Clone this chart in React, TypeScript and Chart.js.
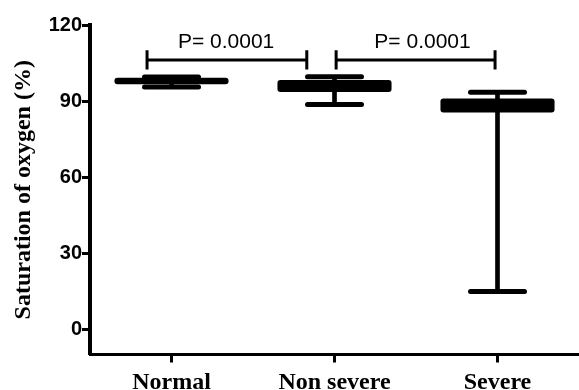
import React, { useEffect, useRef } from 'react';
import { Chart, registerables } from 'chart.js';

Chart.register(...registerables);

// ---- data ----
const categories = ['Normal', 'Non severe', 'Severe'];
const whiskerMin = [95.5, 88.6, 14.9];
const quartile1 = [96.6, 93.6, 85.5];
const quartile3 = [99.2, 98.3, 91.0];
const whiskerMax = [99.5, 99.6, 93.5];
const yTicks = [0, 30, 60, 90, 120];
const yTitle = 'Saturation of oxygen (%)';
const pLabels = ['P= 0.0001', 'P= 0.0001'];

// bracket annotations (category-index positions)
const bracketFrom = [-0.15, 1.01];
const bracketTo = [0.83, 1.985];
const bracketTextAt = [0.335, 1.54];
const bracketLevel = 106.2;
const bracketTickHalf = 3.8;
const bracketTextLevel = 111;

const bracketPlugin = {
  id: 'brackets',
  beforeDatasetsDraw(chart: any) {
    chart.ctx.lineCap = 'round';
  },
  afterDatasetsDraw(chart: any) {
    const { ctx } = chart;
    ctx.lineCap = 'butt';
    const x = chart.scales.x;
    const y = chart.scales.y;
    ctx.save();
    ctx.strokeStyle = '#000';
    ctx.fillStyle = '#000';
    ctx.lineWidth = 3;
    ctx.font = '21px "Liberation Sans", Arial, sans-serif';
    ctx.textAlign = 'center';
    ctx.textBaseline = 'alphabetic';
    pLabels.forEach((label, i) => {
      const x1 = x.getPixelForValue(bracketFrom[i]);
      const x2 = x.getPixelForValue(bracketTo[i]);
      const yl = y.getPixelForValue(bracketLevel);
      const yt = y.getPixelForValue(bracketLevel + bracketTickHalf);
      const yb = y.getPixelForValue(bracketLevel - bracketTickHalf);
      ctx.beginPath();
      ctx.moveTo(x1, yl);
      ctx.lineTo(x2, yl);
      ctx.moveTo(x1, yt);
      ctx.lineTo(x1, yb);
      ctx.moveTo(x2, yt);
      ctx.lineTo(x2, yb);
      ctx.stroke();
      ctx.fillText(label, x.getPixelForValue(bracketTextAt[i]), y.getPixelForValue(bracketTextLevel));
    });
    ctx.restore();
  },
};

export default function App() {
  const canvasRef = useRef<HTMLCanvasElement | null>(null);

  useEffect(() => {
    if (!canvasRef.current) return;
    const chart = new Chart(canvasRef.current, {
      type: 'bar',
      data: {
        labels: categories,
        datasets: [
          {
            type: 'bar',
            data: categories.map((_, i) => [quartile1[i], quartile3[i]]),
            backgroundColor: '#000',
            borderWidth: 0,
            borderRadius: 3,
            borderSkipped: false,
            barPercentage: 0.7,
            categoryPercentage: 1,
            grouped: false,
          } as any,
          {
            type: 'bar',
            data: categories.map((_, i) => [whiskerMin[i], whiskerMax[i]]),
            backgroundColor: '#000',
            borderWidth: 0,
            barThickness: 4,
            grouped: false,
          } as any,
          {
            type: 'line',
            data: whiskerMax,
            showLine: false,
            clip: false,
            pointStyle: 'line',
            pointRadius: 27,
            pointHoverRadius: 27,
            pointBorderWidth: 5,
            pointBorderColor: '#000',
            borderColor: '#000',
          } as any,
          {
            type: 'line',
            data: whiskerMin,
            showLine: false,
            clip: false,
            pointStyle: 'line',
            pointRadius: 27,
            pointHoverRadius: 27,
            pointBorderWidth: 5,
            pointBorderColor: '#000',
            borderColor: '#000',
          } as any,
        ],
      },
      options: {
        animation: false,
        responsive: false,
        devicePixelRatio: 1,
        layout: { autoPadding: false, padding: { top: 25, right: 0, left: 0, bottom: 0 } },
        plugins: {
          legend: { display: false },
          tooltip: { enabled: false },
        },
        scales: {
          x: {
            type: 'category',
            offset: true,
            grid: {
              display: true,
              drawOnChartArea: false,
              drawTicks: true,
              tickLength: 8,
              tickWidth: 3,
              tickColor: '#000',
              offset: false,
            },
            border: { display: true, color: '#000', width: 3 },
            ticks: {
              color: '#000',
              padding: 6,
              maxRotation: 0,
              autoSkip: false,
              font: { family: '"Liberation Serif", "Times New Roman", serif', size: 24, weight: 'bold' },
            },
            afterFit: (s: any) => {
              s.height = 35.5;
              s.paddingLeft = 0;
              s.paddingRight = 0;
            },
          },
          y: {
            min: -10,
            max: 120,
            afterBuildTicks: (s: any) => {
              s.ticks = yTicks.map((v) => ({ value: v }));
            },
            grid: {
              display: true,
              drawOnChartArea: false,
              drawTicks: true,
              tickLength: 8,
              tickWidth: 3,
              tickColor: '#000',
            },
            border: { display: true, color: '#000', width: 4 },
            ticks: {
              color: '#000',
              padding: 0,
              font: { family: '"Liberation Sans", Arial, sans-serif', size: 20, weight: 'bold' },
            },
            title: {
              display: true,
              text: yTitle,
              color: '#000',
              padding: { top: 9, bottom: 0 },
              font: { family: '"Liberation Serif", "Times New Roman", serif', size: 24, weight: 'bold' },
            },
            afterFit: (s: any) => {
              s.width = 90;
              s.paddingTop = 0;
              s.paddingBottom = 0;
            },
          },
        },
      } as any,
      plugins: [bracketPlugin],
    });
    return () => chart.destroy();
  }, []);

  return (
    <div style={{ position: 'fixed', left: 0, top: 0, width: 579, height: 390, background: '#fff' }}>
      <canvas ref={canvasRef} width={579} height={390} style={{ width: 579, height: 390, display: 'block' }} />
    </div>
  );
}
